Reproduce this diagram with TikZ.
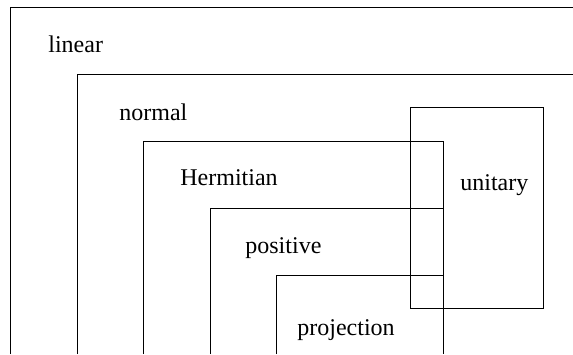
\documentclass[tikz,border=0pt]{standalone}
\usepackage{fontspec}
\setmainfont{Liberation Serif}
\usetikzlibrary{positioning}
\tikzset{set/.style = {draw, line width=0.5pt}}
\tikzset{setname/.style = {anchor=base west, inner sep=0pt, font=\fontsize{12}{14}\selectfont}}

\begin{document}
\begin{tikzpicture}[x=0.5pt, y=-0.5pt]
  \useasboundingbox (0,0) rectangle (573,354);
  % nested classes, open to the bottom
  \draw[set] (10,354) -- (10,7) -- (573,7);
  \draw[set] (77,354) -- (77,74) -- (573,74);
  \draw[set] (143,354) -- (143,141) -- (443,141) -- (443,354);
  \draw[set] (210,354) -- (210,208) -- (443,208);
  \draw[set] (276,354) -- (276,275) -- (443,275);
  \draw[set] (410,107) rectangle (543,308);
  \node [setname] (lin) at (48,52) {linear};
  \node [setname] (nor) at (119,120) {normal};
  \node [setname] (her) at (180,185) {Hermitian};
  \node [setname] (pos) at (245,253) {positive};
  \node [setname] (proj) at (297,335) {projection};
  \node [setname] (uni) at (460,190) {unitary};
\end{tikzpicture}
\end{document}
